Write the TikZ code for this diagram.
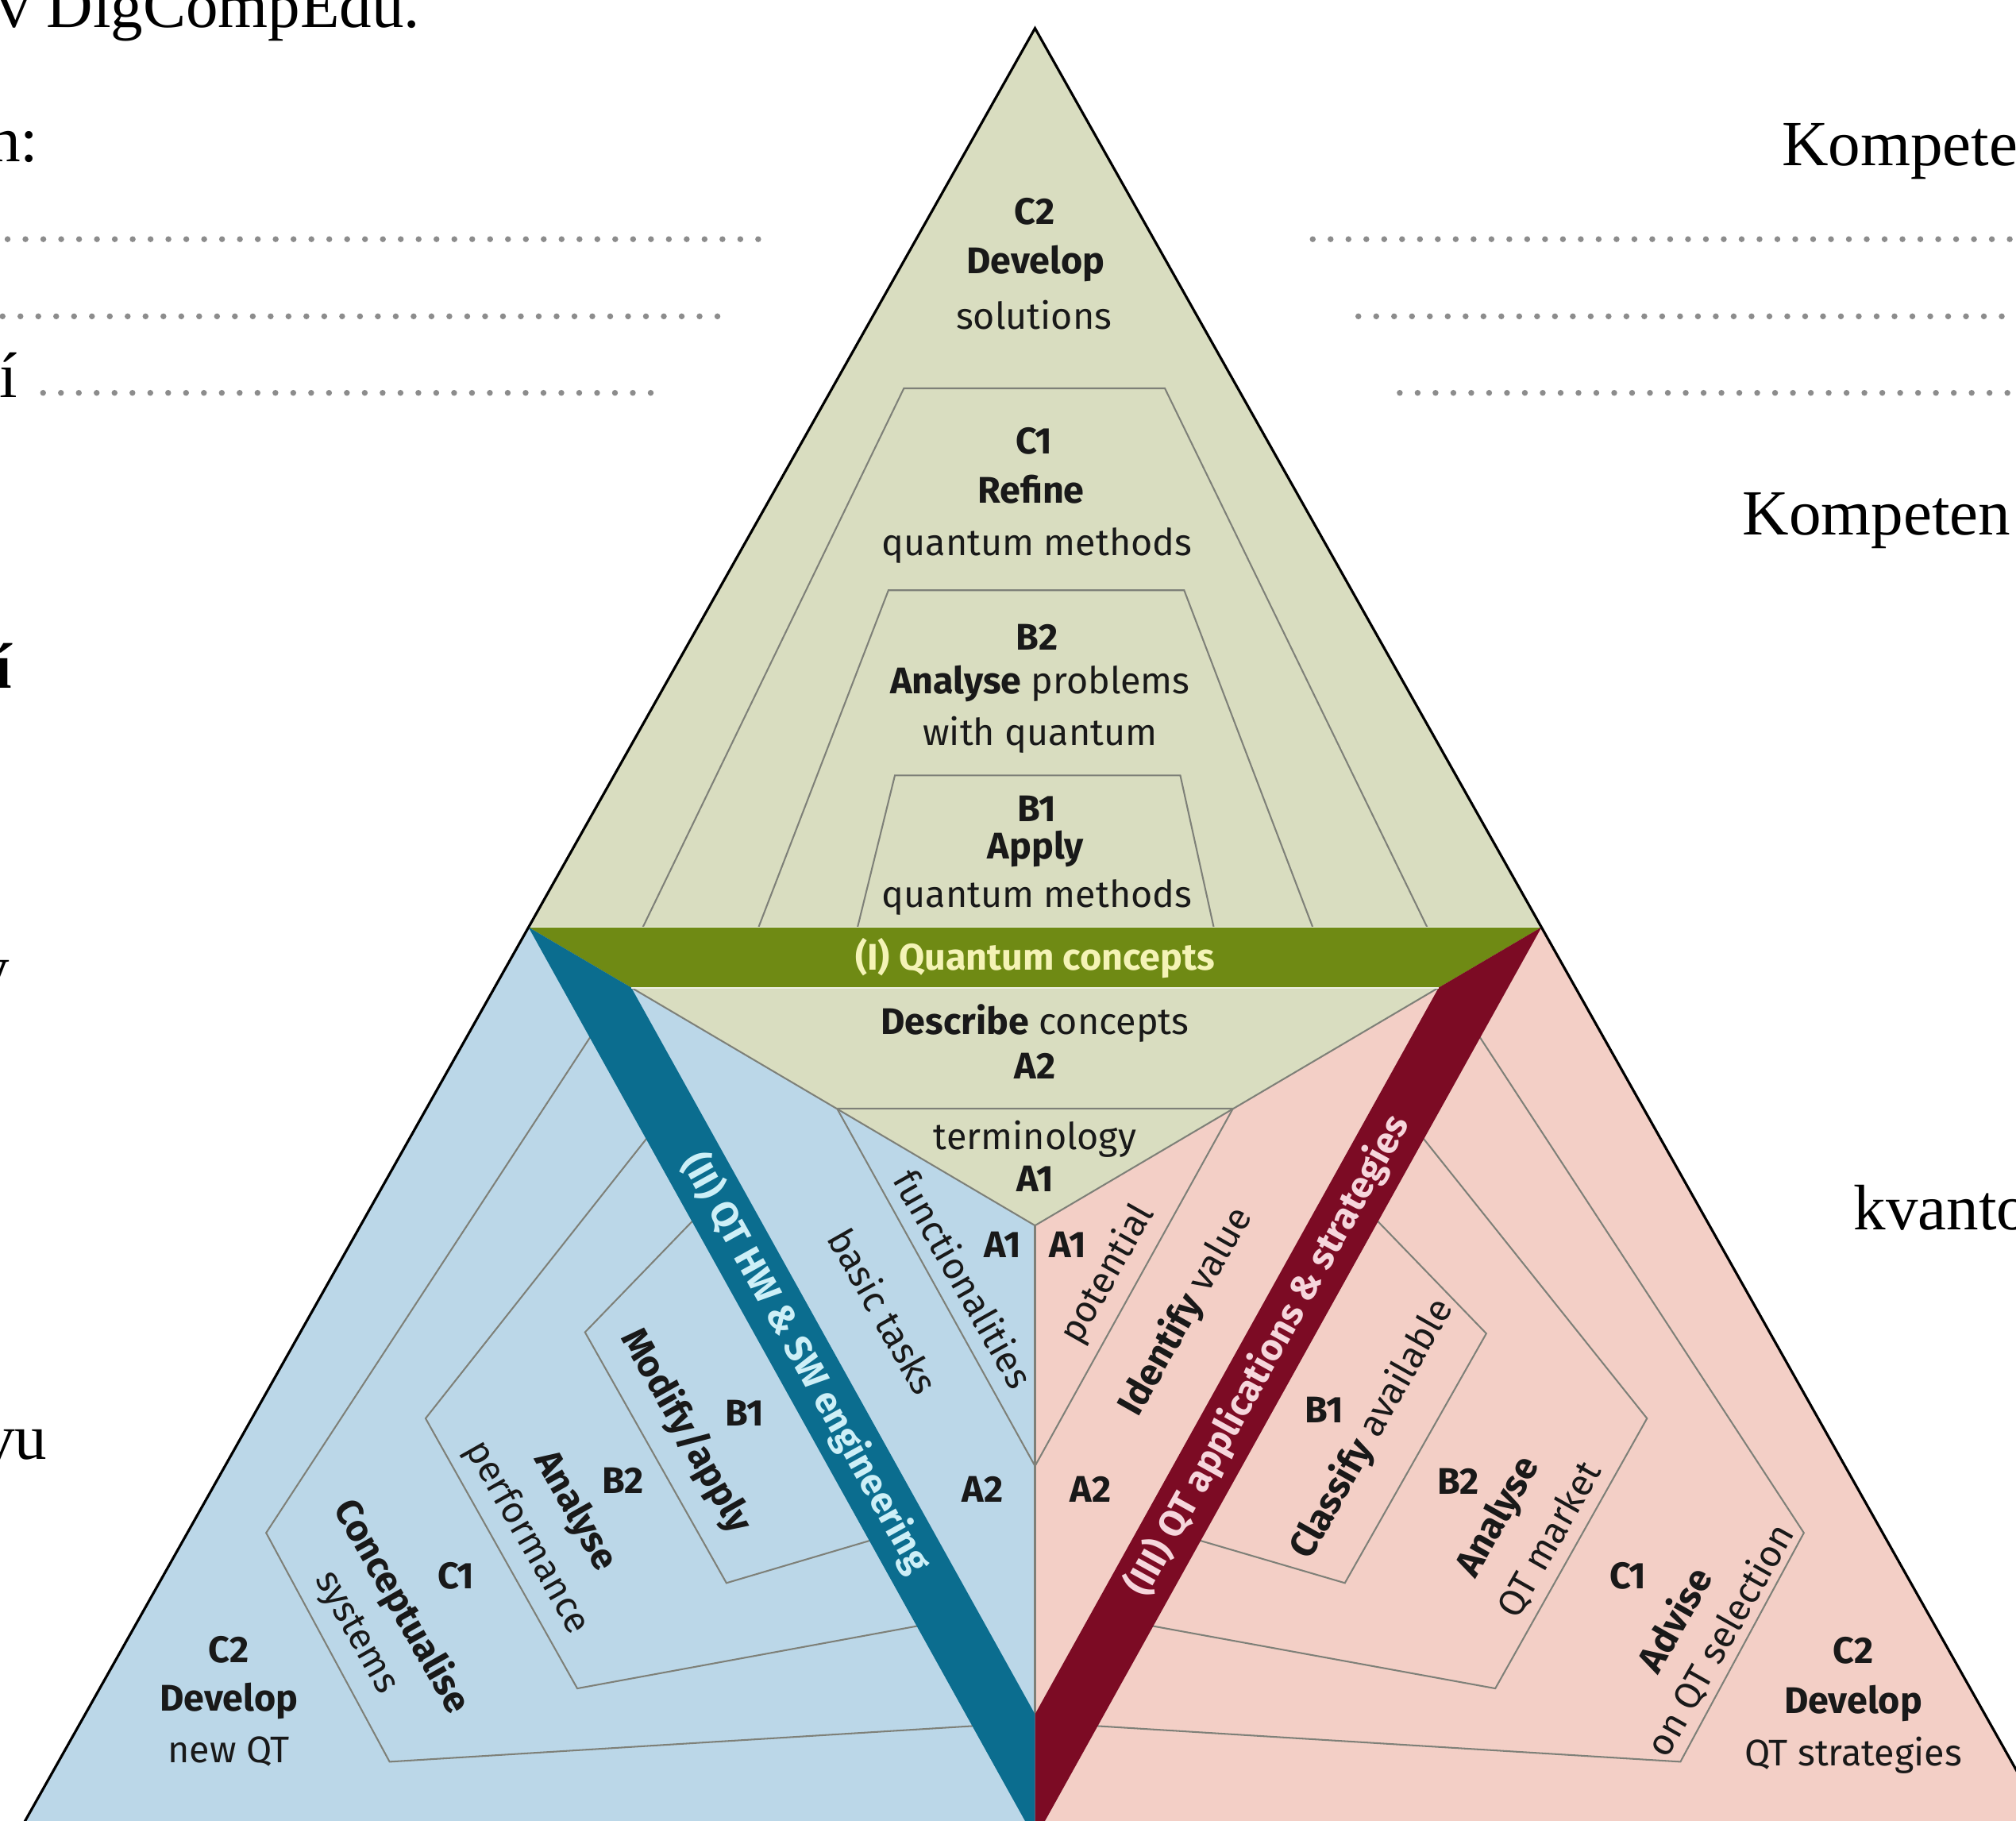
\documentclass[tikz,border=0pt]{standalone}
\usepackage{fontspec}
\setmainfont{Fira Sans}
\newfontfamily\pageserif{Liberation Serif}

\definecolor{topfill}{HTML}{D9DDC0}
\definecolor{conceptband}{HTML}{6F8A14}
\definecolor{concepttext}{HTML}{F4F3B6}
\definecolor{hwfill}{HTML}{BBD7E8}
\definecolor{hwband}{HTML}{0B6D8F}
\definecolor{hwtext}{HTML}{CDEFF7}
\definecolor{appfill}{HTML}{F3CFC6}
\definecolor{appband}{HTML}{7C0B24}
\definecolor{apptext}{HTML}{F6D6DC}
\definecolor{levelline}{HTML}{7E8078}
\definecolor{dotgray}{HTML}{8C8C8C}

\tikzset{
  level/.style={draw=levelline, line width=0.9pt},
  lbl/.style={inner sep=0pt, text=black!90, font=\fontsize{20.5}{24}\selectfont},
  lvl/.style={lbl, font=\fontsize{20.5}{24}\selectfont\bfseries},
  bandlbl/.style={inner sep=0pt, font=\fontsize{20.5}{24}\selectfont\bfseries},
  pagetxt/.style={inner sep=0pt, font=\pageserif\fontsize{35.6}{40}\selectfont},
}

\begin{document}
\begin{tikzpicture}[x=0.25mm, y=-0.25mm]
\useasboundingbox (0,0) rectangle (1568,1416);
\clip (0,0) rectangle (1568,1416);

\coordinate (apex) at (805,22);
\coordinate (L) at (411,721);
\coordinate (R) at (1199,721);
\coordinate (B) at (805,1430);
\coordinate (O) at (805,953);
\coordinate (Lb) at (491,768);
\coordinate (Rb) at (1119,768);
\coordinate (M) at (805,1333);
\coordinate (BL) at (6,1440);
\coordinate (BR) at (1604,1440);
\coordinate (BC) at (805,1440);
\coordinate (P) at (651,862);
\coordinate (Q) at (959,862);
\coordinate (S) at (805,1140);

\fill[topfill] (apex) -- (R) -- (O) -- (L) -- cycle;
\fill[hwfill] (L) -- (BL) -- (BC) -- (B) -- (O) -- cycle;
\fill[appfill] (R) -- (BR) -- (BC) -- (B) -- (O) -- cycle;

\draw[level] (500,721) -- (703,302) -- (906,302) -- (1110,721);
\draw[level] (590,721) -- (691,459) -- (921,459) -- (1021,721);
\draw[level] (667,721) -- (696,603) -- (918,603) -- (944,721);

\draw[level] (462,802) -- (207,1192) -- (303,1370) -- (760,1342);
\draw[level] (504,884) -- (331,1103) -- (449,1313) -- (716,1264);
\draw[level] (542,946) -- (455,1036) -- (565,1231) -- (680,1197);

\draw[level] (1148,802) -- (1403,1192) -- (1307,1370) -- (850,1342);
\draw[level] (1106,884) -- (1281,1103) -- (1163,1313) -- (894,1264);
\draw[level] (1068,946) -- (1156,1037) -- (1046,1231) -- (930,1197);

\draw[level] (Lb) -- (O) -- (Rb);
\draw[level] (O) -- (M);
\draw[level] (P) -- (Q) -- (S) -- cycle;

\fill[conceptband] (L) -- (R) -- (Rb) -- (Lb) -- cycle;
\fill[hwband] (L) -- (Lb) -- (M) -- (B) -- cycle;
\fill[appband] (R) -- (Rb) -- (M) -- (B) -- cycle;
\draw[white!55!topfill, line width=0.8pt] (L) -- (R) (Lb) -- (Rb);

\draw[line width=1.4pt] (BL) -- (apex) -- (BR);

\begin{scope}[every node/.style={lvl}]
    \node (C2top) at (804.5,164.7) {C2};
    \node (DevTop) at (805.4,204.8) {Develop};
    \node (C1top) at (804.2,342.7) {C1};
    \node (RefTop) at (801.9,380.8) {Refine};
    \node (B2top) at (806.6,495.6) {B2};
    \node (B1top) at (806.6,628.8) {B1};
    \node (AppTop) at (805.4,660.3) {Apply};
    \node (A2top) at (805,829) {A2};
    \node (A1top) at (805,916.4) {A1};
    \node (A1hw) at (780,968) {A1};
    \node (A2hw) at (764,1158) {A2};
    \node (B1hw) at (579,1099) {B1};
    \node (B2hw) at (484.6,1151.3) {B2};
    \node (C1hw) at (354.6,1225.5) {C1};
    \node (C2hw) at (178,1283) {C2};
    \node (DevHw) at (178,1323) {Develop};
    \node (A1app) at (830.6,968) {A1};
    \node (A2app) at (848,1158) {A2};
    \node (B1app) at (1029.9,1096.1) {B1};
    \node (B2app) at (1134.3,1152) {B2};
    \node (C1app) at (1266.3,1225.5) {C1};
    \node (C2app) at (1441.4,1283.5) {C2};
    \node (DevApp) at (1441.4,1324.7) {Develop};
\end{scope}
\begin{scope}[every node/.style={lbl}]
    \node (SolTop) at (804.2,245) {solutions};
    \node (QmTop) at (806.6,424) {quantum methods};
    \node (AnaTop) at (809,531.4) {\textbf{Analyse} problems};
    \node (WithTop) at (809,571.4) {with quantum};
    \node (QmLow) at (806.6,698.1) {quantum methods};
    \node (DescTop) at (805,796) {\textbf{Describe} concepts};
    \node (TermTop) at (805,885.6) {terminology};
    \node (NewHw) at (178,1362) {new QT};
    \node (StratApp) at (1441.4,1364.8) {QT strategies};
\end{scope}
\begin{scope}[every node/.style={lbl, rotate=-60.5}]
    \node (FuncHw) at (749.7,994.3) {functionalities};
    \node (TaskHw) at (687.4,1019.4) {basic tasks};
    \node (ModHw) at (533.8,1112.9) {\textbf{Modify/apply}};
    \node (AnaHw) at (447,1175) {\textbf{Analyse}};
    \node (PerfHw) at (409.7,1195.6) {performance};
    \node (ConHw) at (312,1249.6) {\textbf{Conceptualise}};
    \node (SysHw) at (275.9,1270) {systems};
\end{scope}
\begin{scope}[every node/.style={lbl, rotate=60.5}]
    \node (PotApp) at (861.5,991) {potential};
    \node (IdApp) at (922.4,1020) {\textbf{Identify} value};
    \node (ClsApp) at (1067.3,1111.2) {\textbf{Classify} available};
    \node (AnaApp) at (1165.8,1180) {\textbf{Analyse}};
    \node (MktApp) at (1205.2,1197.3) {QT market};
    \node (AdvApp) at (1301.5,1259) {\textbf{Advise}};
    \node (SelApp) at (1338,1275.5) {on QT selection};
\end{scope}

\node[bandlbl, text=concepttext] (BandI) at (805,745) {(I) Quantum concepts};
\node[bandlbl, text=hwtext, rotate=-60.94] (BandII) at (627,1060) {(II) QT HW \& SW engineering};
\node[bandlbl, text=apptext, rotate=60.94] (BandIII) at (986,1054) {(III) QT applications \& strategies};

\begin{scope}[every node/.style={pagetxt}]
    \node[anchor=base east] (PgDig) at (327,21.4) {v DigCompEdu.};
    \node[anchor=base east] (PgH) at (30,125.7) {h:};
    \node[anchor=base east] (PgI) at (14,308.8) {í};
    \node[anchor=base east] (PgIb) at (10,535) {\textbf{í}};
    \node[anchor=base east] (PgY) at (8,770) {y};
    \node[anchor=base east] (PgVu) at (37,1135) {vu};
    \node[anchor=base west] (PgKomp) at (1385.7,129) {Kompete};
    \node[anchor=base west] (PgKompb) at (1355,416) {Kompeten};
    \node[anchor=base west] (PgKvant) at (1441.4,956.6) {kvanto};
\end{scope}

\foreach \x in {5.9,19.8,...,592} \fill[dotgray] (\x,186) circle[radius=2.3];
\foreach \x in {2,15.9,...,560} \fill[dotgray] (\x,246) circle[radius=2.3];
\foreach \x in {33.5,47.4,...,509} \fill[dotgray] (\x,305.5) circle[radius=2.3];
\foreach \x in {1021,1034.9,...,1572} \fill[dotgray] (\x,186) circle[radius=2.3];
\foreach \x in {1056.5,1070.4,...,1572} \fill[dotgray] (\x,246) circle[radius=2.3];
\foreach \x in {1088.7,1102.6,...,1572} \fill[dotgray] (\x,305.5) circle[radius=2.3];
\end{tikzpicture}
\end{document}
